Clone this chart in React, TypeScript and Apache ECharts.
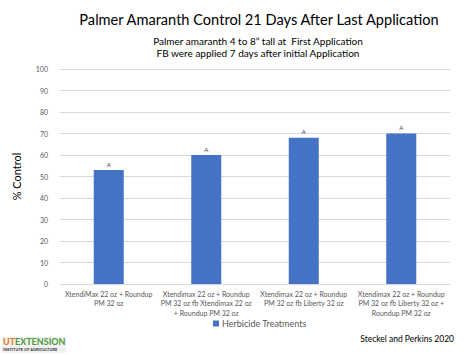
import React, { useEffect, useRef } from "react";
import * as echarts from "echarts";

const categories = [
  "XtendiMax 22 oz + Roundup\nPM 32 oz",
  "Xtendimax 22 oz + Roundup\nPM 32 oz fb Xtendimax 22 oz\n+ Roundup PM 32 oz",
  "Xtendimax 22 oz + Roundup\nPM 32 oz fb Liberty 32 oz",
  "Xtendimax 22 oz + Roundup\nPM 32 oz fb Liberty 32 oz +\nRoundup PM 32 oz",
];
const values = [53, 60, 68, 70];
const letters = ["A", "A", "A", "A"];
const seriesName = "Herbicide Treatments";

const FONT = "Lato, 'Open Sans', sans-serif";

export default function App() {
  const ref = useRef<HTMLDivElement>(null);
  useEffect(() => {
    const chart = echarts.init(ref.current!, null, { renderer: "svg" });
    chart.setOption({
      animation: false,
      backgroundColor: "#ffffff",
      title: [
        {
          text: "Palmer Amaranth Control 21 Days After Last Application",
          left: 254,
          textAlign: "center",
          top: 7,
          textStyle: { fontFamily: FONT, fontSize: 14.6, fontWeight: "normal", color: "#000" },
        },
        {
          text: "Palmer amaranth 4 to 8\u201d tall at  First Application\nFB were applied 7 days after initial Application",
          left: 253,
          textAlign: "center",
          top: 30,
          textStyle: { fontFamily: FONT, fontSize: 10, fontWeight: "normal", color: "#000", lineHeight: 12 },
        },
      ],
      legend: {
        data: [seriesName],
        bottom: 22,
        left: 208,
        itemWidth: 6,
        itemHeight: 6,
        itemGap: 4,
        icon: "rect",
        textStyle: { fontFamily: FONT, fontSize: 9, color: "#595959", padding: [0, 0, 0, -2] },
      },
      grid: { left: 60, right: 24, top: 69, bottom: 71, containLabel: false },
      xAxis: {
        type: "category",
        data: categories,
        axisLine: { lineStyle: { color: "#d9d9d9" } },
        axisTick: { show: false },
        axisLabel: {
          interval: 0,
          fontFamily: FONT,
          fontSize: 7,
          color: "#595959",
          lineHeight: 9.5,
          margin: 5,
        },
      },
      yAxis: {
        type: "value",
        min: 0,
        max: 100,
        interval: 10,
        name: "% Control",
        nameLocation: "middle",
        nameGap: 38,
        nameRotate: 90,
        nameTextStyle: { fontFamily: FONT, fontSize: 11, color: "#000" },
        axisLine: { show: false },
        axisTick: { show: false },
        axisLabel: { fontFamily: FONT, fontSize: 7, color: "#595959", margin: 12 },
        splitLine: { lineStyle: { color: "#d9d9d9", width: 1 } },
      },
      series: [
        {
          name: seriesName,
          type: "bar",
          data: values,
          barWidth: 30,
          itemStyle: { color: "#4472C4" },
          label: {
            show: true,
            position: "top",
            distance: 3,
            formatter: (p: any) => letters[p.dataIndex],
            fontFamily: FONT,
            fontSize: 6,
            color: "#404040",
          },
        },
      ],
      graphic: [
        {
          type: "text",
          right: 20,
          top: 334,
          style: { text: "Steckel and Perkins 2020", font: `8.5px ${FONT}`, fill: "#000" },
        },
        {
          type: "rect",
          left: 2,
          top: 337,
          shape: { width: 64, height: 16 },
          style: { fill: "#f0f0f0" },
        },
        {
          type: "text",
          left: 3,
          top: 337,
          style: { text: "UT", font: `bold 9px ${FONT}`, fill: "#e07b20" },
        },
        {
          type: "text",
          left: 15,
          top: 337,
          style: { text: "EXTENSION", font: `bold 9px ${FONT}`, fill: "#4a9a3a" },
        },
        {
          type: "text",
          left: 3,
          top: 347,
          style: { text: "INSTITUTE OF AGRICULTURE", font: `bold 4px ${FONT}`, fill: "#333" },
        },
      ],
    });
    return () => chart.dispose();
  }, []);
  return <div ref={ref} style={{ width: 474, height: 355, position: "absolute", left: 0, top: 0 }} />;
}
